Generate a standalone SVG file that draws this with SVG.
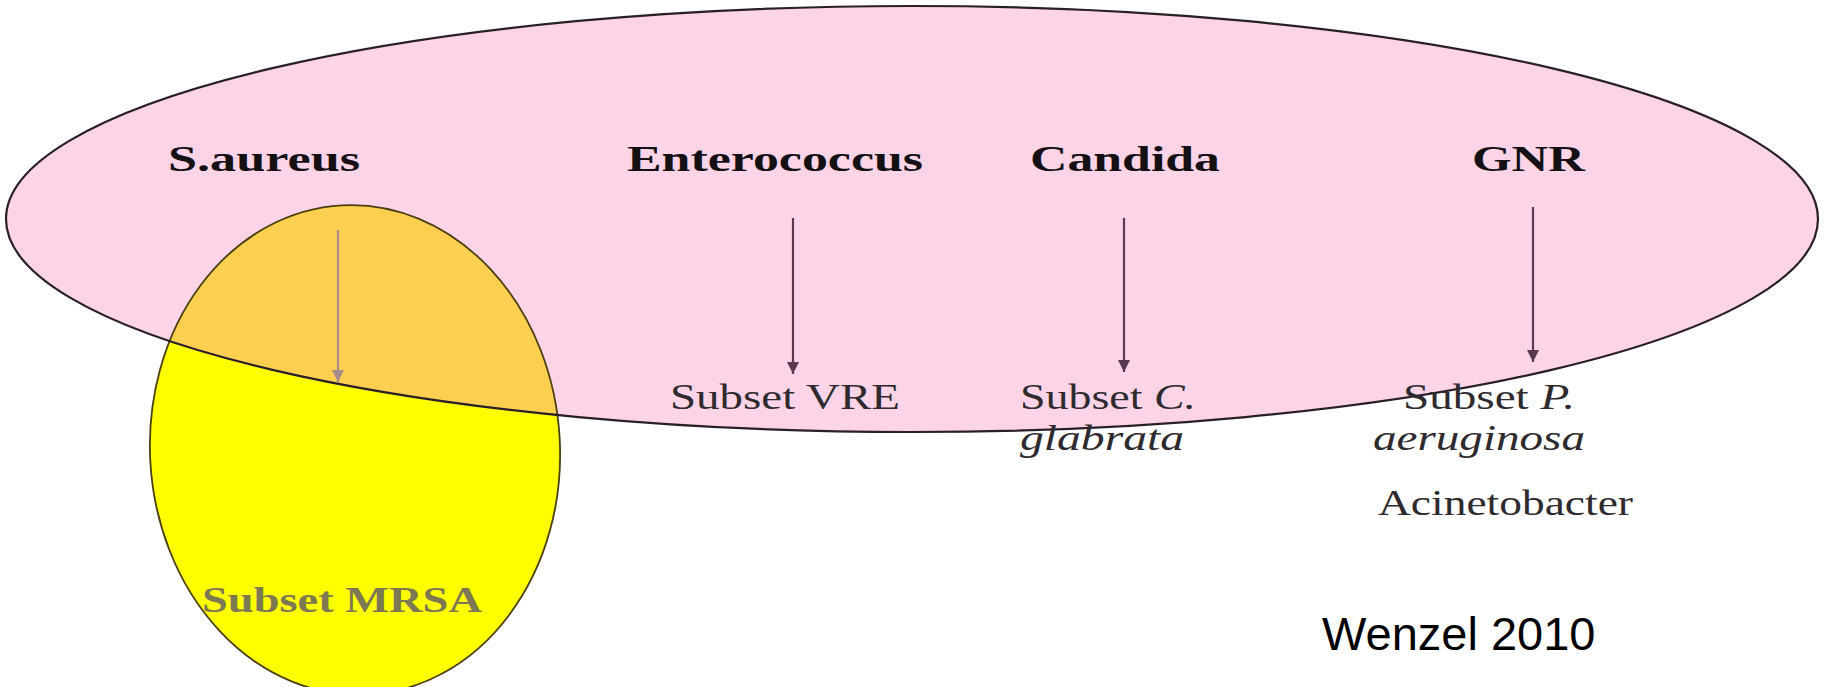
<svg xmlns="http://www.w3.org/2000/svg" width="1826" height="687" viewBox="0 0 1826 687">
  <style>
    .head { font-family: "Liberation Serif", "Times New Roman", serif; font-weight: bold; font-size: 36px; fill: #141014; }
    .sub { font-family: "Liberation Serif", "Times New Roman", serif; font-size: 36px; fill: #2e2a2e; }
    .it { font-style: italic; }
    .conn { stroke: #5a3a50; stroke-width: 2.2; fill: none; }
  </style>
  <defs>
    <marker id="tip" markerUnits="userSpaceOnUse" markerWidth="14" markerHeight="12" refX="12" refY="6" orient="auto">
      <path d="M0,0 L12,6 L0,12 Z" fill="#5a3a50"/>
    </marker>
    <marker id="tipLight" markerUnits="userSpaceOnUse" markerWidth="14" markerHeight="12" refX="12" refY="6" orient="auto">
      <path d="M0,0 L12,6 L0,12 Z" fill="#a58a8e"/>
    </marker>
    <clipPath id="pinkClip">
      <ellipse cx="912" cy="219" rx="906" ry="213"/>
    </clipPath>
  </defs>

  <rect width="1826" height="687" fill="#ffffff"/>

  <!-- all hospital pathogens -->
  <g id="pathogens">
    <ellipse cx="912" cy="219" rx="906" ry="213" fill="#fcd4e8"/>
  </g>

  <!-- MRSA subset -->
  <g id="mrsa">
    <ellipse cx="355" cy="450" rx="205" ry="245" transform="rotate(-3 355 450)" fill="#ffff00"/>
    <g clip-path="url(#pinkClip)">
      <ellipse cx="355" cy="450" rx="205" ry="245" transform="rotate(-3 355 450)" fill="#fdcf50"/>
    </g>
    <ellipse cx="355" cy="450" rx="205" ry="245" transform="rotate(-3 355 450)" fill="none" stroke="#4a4010" stroke-width="1.8"/>
    <text x="202" y="612" textLength="280" lengthAdjust="spacingAndGlyphs" font-family="Liberation Serif, serif" font-weight="bold" font-size="36" fill="#7c7852">Subset MRSA</text>
  </g>

  <!-- outline of the outer set drawn over the fills -->
  <ellipse cx="912" cy="219" rx="906" ry="213" fill="none" stroke="#2a1e2a" stroke-width="2.2"/>

  <!-- species headings -->
  <g id="s-aureus">
    <text class="head" x="168" y="171" textLength="192" lengthAdjust="spacingAndGlyphs">S.aureus</text>
  </g>
  <g id="enterococcus">
    <text class="head" x="627" y="171" textLength="296" lengthAdjust="spacingAndGlyphs">Enterococcus</text>
  </g>
  <g id="candida">
    <text class="head" x="1030" y="171" textLength="190" lengthAdjust="spacingAndGlyphs">Candida</text>
  </g>
  <g id="gnr">
    <text class="head" x="1472" y="171" textLength="113" lengthAdjust="spacingAndGlyphs">GNR</text>
  </g>

  <!-- resistant subsets -->
  <g id="vre">
    <text class="sub" x="670" y="409" textLength="230" lengthAdjust="spacingAndGlyphs">Subset VRE</text>
  </g>
  <g id="c-glabrata">
    <text class="sub" x="1020" y="409" textLength="176" lengthAdjust="spacingAndGlyphs">Subset <tspan class="it">C.</tspan></text>
    <text class="sub it" x="1020" y="450" textLength="164" lengthAdjust="spacingAndGlyphs">glabrata</text>
  </g>
  <g id="p-aeruginosa">
    <text class="sub" x="1403" y="409" textLength="172" lengthAdjust="spacingAndGlyphs">Subset <tspan class="it">P.</tspan></text>
    <text class="sub it" x="1373" y="450" textLength="212" lengthAdjust="spacingAndGlyphs">aeruginosa</text>
  </g>
  <g id="acinetobacter">
    <text class="sub" x="1378" y="515" textLength="255" lengthAdjust="spacingAndGlyphs" fill="#3a3a3a">Acinetobacter</text>
  </g>

  <!-- connectors -->
  <g id="connectors">
    <line x1="338" y1="230" x2="338" y2="382" stroke="#a58a8e" stroke-width="2.2" marker-end="url(#tipLight)"/>
    <line class="conn" x1="793" y1="218" x2="793" y2="374" marker-end="url(#tip)"/>
    <line class="conn" x1="1124" y1="218" x2="1124" y2="372" marker-end="url(#tip)"/>
    <line class="conn" x1="1533" y1="207" x2="1533" y2="362" marker-end="url(#tip)"/>
  </g>

  <!-- citation -->
  <g id="citation">
    <text x="1322" y="650" font-family="Liberation Sans, Arial, sans-serif" font-size="47" fill="#000000">Wenzel 2010</text>
  </g>
</svg>
